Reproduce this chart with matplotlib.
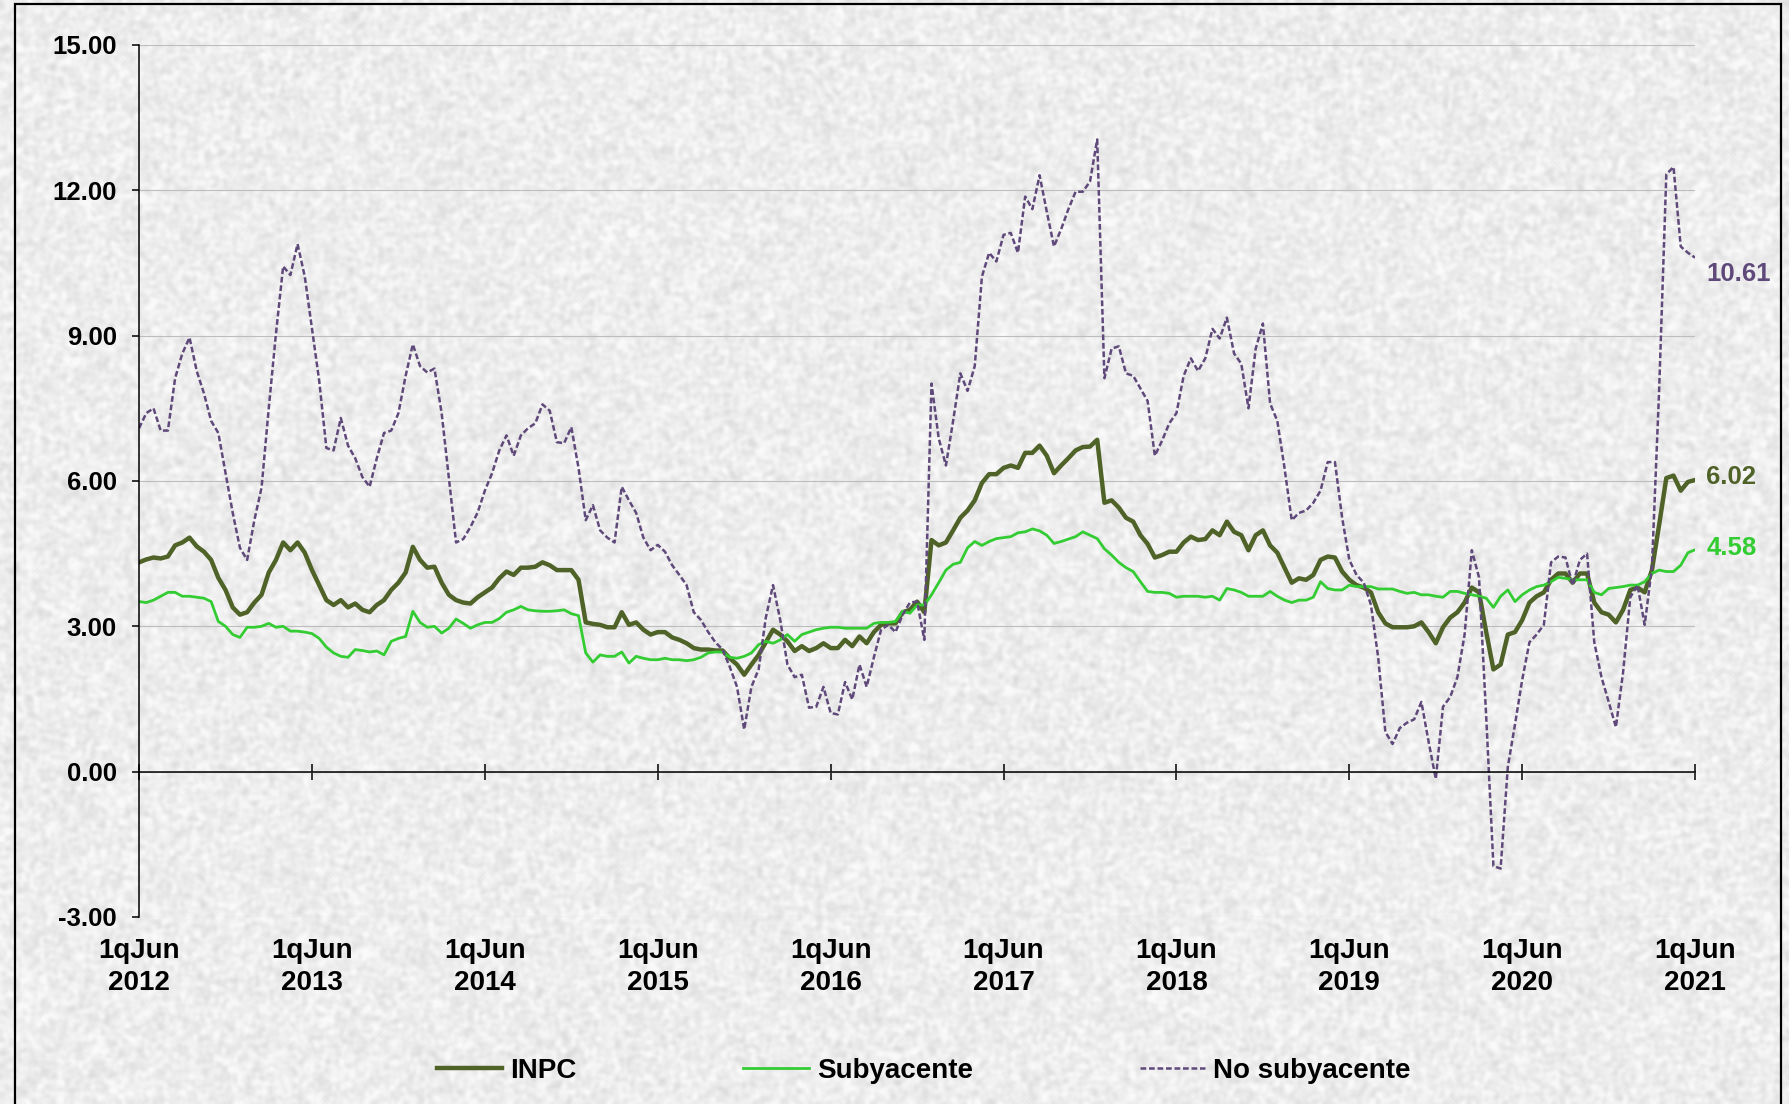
import numpy as np
import matplotlib.pyplot as plt
from matplotlib.patches import Rectangle

plt.rcParams['font.family'] = ['Liberation Sans', 'DejaVu Sans']
plt.rcParams['font.weight'] = 'bold'

# annual inflation by fortnight, 1qJun 2012 .. 1qJun 2021
inpc = [
    4.32, 4.38, 4.42, 4.40, 4.44, 4.67, 4.73, 4.83, 4.65, 4.54, 4.37, 4.00,
    3.75, 3.39, 3.24, 3.29, 3.49, 3.65, 4.11, 4.37, 4.73, 4.57, 4.73, 4.52,
    4.16, 3.85, 3.54, 3.44, 3.54, 3.39, 3.47, 3.34, 3.29, 3.44, 3.54, 3.75,
    3.90, 4.11, 4.64, 4.37, 4.21, 4.23, 3.90, 3.65, 3.54, 3.49, 3.47, 3.60,
    3.70, 3.80, 3.99, 4.13, 4.06, 4.21, 4.21, 4.23, 4.32, 4.26, 4.16, 4.16,
    4.16, 3.96, 3.08, 3.05, 3.03, 2.98, 2.98, 3.29, 3.03, 3.08, 2.93, 2.83,
    2.88, 2.88, 2.77, 2.72, 2.65, 2.55, 2.52, 2.52, 2.50, 2.50, 2.34, 2.21,
    2.00, 2.21, 2.41, 2.67, 2.93, 2.83, 2.69, 2.49, 2.59, 2.49, 2.55, 2.65,
    2.55, 2.55, 2.72, 2.59, 2.79, 2.65, 2.88, 3.03, 3.06, 3.06, 3.29, 3.34,
    3.51, 3.29, 4.78, 4.67, 4.73, 4.98, 5.24, 5.39, 5.60, 5.96, 6.14, 6.14,
    6.27, 6.32, 6.27, 6.58, 6.58, 6.73, 6.52, 6.16, 6.32, 6.47, 6.63, 6.70,
    6.71, 6.85, 5.55, 5.60, 5.45, 5.24, 5.16, 4.88, 4.70, 4.42, 4.47, 4.54,
    4.54, 4.73, 4.85, 4.78, 4.80, 4.98, 4.88, 5.16, 4.95, 4.88, 4.57, 4.88,
    4.98, 4.67, 4.52, 4.21, 3.90, 3.99, 3.96, 4.06, 4.37, 4.44, 4.42, 4.13,
    3.96, 3.85, 3.80, 3.70, 3.29, 3.06, 2.98, 2.98, 2.98, 3.00, 3.08, 2.88,
    2.65, 2.98, 3.18, 3.29, 3.49, 3.80, 3.70, 2.88, 2.11, 2.21, 2.83, 2.88,
    3.13, 3.49, 3.62, 3.70, 3.96, 4.09, 4.09, 3.90, 4.09, 4.09, 3.49, 3.29,
    3.24, 3.08, 3.34, 3.75, 3.80, 3.70, 4.16, 5.09, 6.06, 6.11, 5.80, 5.98,
    6.02,
]

subyacente = [
    3.51, 3.49, 3.54, 3.62, 3.70, 3.70, 3.62, 3.62, 3.60, 3.58, 3.51, 3.10,
    3.00, 2.83, 2.77, 2.98, 2.98, 3.00, 3.06, 2.98, 3.00, 2.90, 2.90, 2.88,
    2.85, 2.75, 2.57, 2.45, 2.38, 2.36, 2.52, 2.50, 2.47, 2.49, 2.41, 2.69,
    2.75, 2.79, 3.31, 3.08, 2.98, 3.00, 2.86, 2.96, 3.15, 3.06, 2.96, 3.03,
    3.08, 3.08, 3.16, 3.29, 3.34, 3.41, 3.34, 3.32, 3.31, 3.31, 3.32, 3.34,
    3.26, 3.22, 2.45, 2.26, 2.41, 2.38, 2.38, 2.47, 2.24, 2.38, 2.34, 2.31,
    2.31, 2.34, 2.31, 2.31, 2.29, 2.31, 2.36, 2.45, 2.47, 2.47, 2.36, 2.34,
    2.38, 2.45, 2.62, 2.69, 2.65, 2.72, 2.83, 2.69, 2.83, 2.88, 2.93, 2.96,
    2.98, 2.98, 2.96, 2.96, 2.96, 2.96, 3.06, 3.08, 3.08, 3.10, 3.31, 3.27,
    3.44, 3.44, 3.65, 3.90, 4.16, 4.28, 4.32, 4.62, 4.75, 4.67, 4.75, 4.81,
    4.83, 4.85, 4.93, 4.95, 5.01, 4.97, 4.88, 4.71, 4.75, 4.80, 4.85, 4.95,
    4.88, 4.81, 4.60, 4.47, 4.32, 4.21, 4.13, 3.92, 3.72, 3.70, 3.70, 3.68,
    3.60, 3.62, 3.62, 3.62, 3.60, 3.62, 3.54, 3.78, 3.75, 3.70, 3.62, 3.62,
    3.62, 3.72, 3.62, 3.54, 3.49, 3.54, 3.54, 3.60, 3.92, 3.78, 3.75, 3.75,
    3.85, 3.82, 3.82, 3.82, 3.77, 3.77, 3.77, 3.72, 3.68, 3.70, 3.65, 3.65,
    3.62, 3.60, 3.72, 3.72, 3.68, 3.65, 3.62, 3.58, 3.39, 3.62, 3.75, 3.51,
    3.65, 3.75, 3.82, 3.85, 3.92, 4.01, 3.99, 3.96, 3.96, 3.96, 3.70, 3.65,
    3.78, 3.80, 3.82, 3.85, 3.85, 3.92, 4.09, 4.16, 4.13, 4.13, 4.26, 4.52,
    4.58,
]

no_subyacente = [
    7.09, 7.40, 7.50, 7.04, 7.04, 8.12, 8.63, 8.96, 8.27, 7.81, 7.24, 6.99,
    6.16, 5.34, 4.62, 4.37, 5.19, 5.86, 7.50, 9.04, 10.43, 10.25, 10.89, 10.22,
    9.14, 8.07, 6.68, 6.63, 7.30, 6.73, 6.47, 6.08, 5.88, 6.47, 6.99, 7.04,
    7.40, 8.17, 8.82, 8.37, 8.24, 8.32, 7.40, 6.06, 4.73, 4.80, 5.05, 5.35,
    5.80, 6.16, 6.63, 6.94, 6.52, 6.94, 7.09, 7.19, 7.58, 7.45, 6.80, 6.78,
    7.11, 6.27, 5.19, 5.50, 4.98, 4.83, 4.73, 5.88, 5.60, 5.34, 4.83, 4.57,
    4.68, 4.54, 4.26, 4.06, 3.85, 3.29, 3.13, 2.88, 2.67, 2.52, 2.16, 1.75,
    0.87, 1.75, 2.11, 3.18, 3.85, 3.13, 2.21, 1.95, 2.00, 1.32, 1.34, 1.75,
    1.21, 1.18, 1.85, 1.49, 2.21, 1.75, 2.36, 2.93, 3.03, 2.88, 3.24, 3.49,
    3.51, 2.72, 8.01, 6.88, 6.32, 7.24, 8.22, 7.86, 8.37, 10.22, 10.71, 10.53,
    11.08, 11.12, 10.71, 11.87, 11.61, 12.31, 11.56, 10.84, 11.20, 11.61, 11.97, 11.97,
    12.18, 13.05, 8.12, 8.73, 8.78, 8.22, 8.17, 7.91, 7.65, 6.52, 6.83, 7.19,
    7.40, 8.17, 8.53, 8.27, 8.53, 9.14, 8.94, 9.37, 8.63, 8.42, 7.50, 8.73,
    9.25, 7.60, 7.24, 6.27, 5.19, 5.34, 5.39, 5.55, 5.80, 6.39, 6.39, 5.24,
    4.37, 4.06, 3.90, 3.44, 2.36, 0.82, 0.57, 0.90, 1.01, 1.08, 1.44, 0.62,
    -0.15, 1.34, 1.54, 1.95, 2.83, 4.57, 4.01, 1.13, -1.95, -2.00, 0.10, 0.98,
    1.90, 2.67, 2.83, 3.03, 4.32, 4.44, 4.42, 3.85, 4.37, 4.50, 2.67, 1.95,
    1.44, 0.92, 2.05, 3.60, 3.85, 3.03, 4.21, 7.86, 12.33, 12.48, 10.84, 10.71,
    10.61,
]

years = ['2012', '2013', '2014', '2015', '2016', '2017', '2018', '2019', '2020', '2021']
xlabels = ['1qJun\n' + y for y in years]
yticks = [-3, 0, 3, 6, 9, 12, 15]

c_inpc = '#4F6228'
c_sub = '#33CC33'
c_nosub = '#5F497A'

x = np.arange(len(inpc))

fig = plt.figure(figsize=(17.9, 11.04), dpi=100)

# grey marble-ish paper behind the chart
bg = fig.add_axes([0, 0, 1, 1], zorder=-10)
rng = np.random.default_rng(3)
tex = rng.random((552, 895))
for _ in range(2):
    tex = (tex + np.roll(tex, 1, 0) + np.roll(tex, -1, 0)
           + np.roll(tex, 1, 1) + np.roll(tex, -1, 1)) / 5
tex = (tex - tex.mean()) / tex.std()
tex = np.clip(0.93 + 0.022 * tex, 0.82, 0.98)
bg.imshow(tex, cmap='gray', vmin=0, vmax=1, aspect='auto',
          interpolation='bilinear', extent=[0, 1, 0, 1])
bg.axis('off')

ax = fig.add_axes([0.0777, 0.1694, 0.8693, 0.7899])
ax.set_facecolor('none')

ax.plot(x, inpc, color=c_inpc, lw=3.2, solid_joinstyle='round', label='INPC')
ax.plot(x, subyacente, color=c_sub, lw=2.0, solid_joinstyle='round', label='Subyacente')
ax.plot(x, no_subyacente, color=c_nosub, lw=1.8, ls=(0, (2.3, 1.1)), label='No subyacente')

ax.set_xlim(0, len(inpc) - 1)
ax.set_ylim(-3, 15)
ax.set_yticks(yticks)
ax.set_yticklabels(['%.2f' % v for v in yticks], fontsize=18.5, fontweight='bold')
ax.yaxis.grid(True, color='#bdbdbd', lw=0.8)
ax.set_axisbelow(True)

for s in ['top', 'right']:
    ax.spines[s].set_visible(False)
ax.spines['bottom'].set_position(('data', 0))
ax.spines['bottom'].set_linewidth(1.1)
ax.spines['left'].set_linewidth(1.1)

ax.set_xticks(x[::24])
ax.set_xticklabels([])
ax.tick_params(axis='x', direction='inout', length=11, width=1.1)
ax.tick_params(axis='y', direction='out', length=5, width=1.1, pad=11)

for i, lab in enumerate(xlabels):
    ax.annotate(lab, xy=(x[i * 24], 0), xycoords=('data', 'axes fraction'),
                xytext=(0, -15), textcoords='offset points', ha='center', va='top',
                fontsize=20, fontweight='bold', linespacing=1.3)

# last values
ax.annotate('%.2f' % no_subyacente[-1], xy=(x[-1], no_subyacente[-1]), xytext=(8, -12),
            textcoords='offset points', ha='left', va='center', color=c_nosub,
            fontsize=18.5, fontweight='bold', annotation_clip=False)
ax.annotate('%.2f' % inpc[-1], xy=(x[-1], inpc[-1]), xytext=(8, 2),
            textcoords='offset points', ha='left', va='center', color=c_inpc,
            fontsize=18.5, fontweight='bold', annotation_clip=False)
ax.annotate('%.2f' % subyacente[-1], xy=(x[-1], subyacente[-1]), xytext=(8, 1),
            textcoords='offset points', ha='left', va='center', color=c_sub,
            fontsize=18.5, fontweight='bold', annotation_clip=False)

fig.legend(loc='center', bbox_to_anchor=(0.516, 0.030), ncol=3, frameon=False,
           prop={'size': 20, 'weight': 'bold'}, handlelength=2.35,
           handletextpad=0.3, columnspacing=6)

fig.add_artist(Rectangle((15 / 1790, -0.01), 1766 / 1790, 1.0064,
                         transform=fig.transFigure, fill=False,
                         edgecolor='black', lw=1.6))

fig.savefig('out.png', dpi=100)
